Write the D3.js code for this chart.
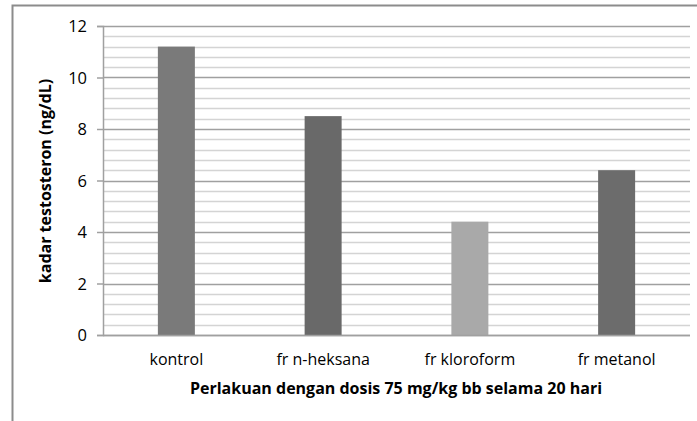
<!DOCTYPE html>
<html>
<head>
<meta charset="utf-8">
<script src="https://cdn.jsdelivr.net/npm/d3@7"></script>
<style>
  body { margin: 0; background: #fff; }
  svg text { font-family: "Open Sans", "Noto Sans", sans-serif; fill: #000; }
</style>
</head>
<body>
<svg id="chart" width="697" height="421"></svg>
<script>
// data
let categories = ["kontrol", "fr n-heksana", "fr kloroform", "fr metanol"];
let values = [11.2, 8.5, 4.4, 6.4];
let barColors = ["#7a7a7a", "#696969", "#a9a9a9", "#6c6c6c"];
let yTicks = [0, 2, 4, 6, 8, 10, 12];
let yTitle = "kadar testosteron (ng/dL)";
let xTitle = "Perlakuan dengan dosis 75 mg/kg bb selama 20 hari";

let svg = d3.select("#chart");

let plotLeft = 103, plotRight = 690, plotTop = 26, plotBottom = 335;

// frame of the chart area (left and top edges show)
svg.append("path")
    .attr("d", "M12.5,421 L12.5,5.5 L697,5.5")
    .attr("fill", "none")
    .attr("stroke", "#8c8c8c")
    .attr("stroke-width", 2);

let x = d3.scaleBand().domain(categories).range([plotLeft, plotRight]);
let y = d3.scaleLinear().domain([0, 12]).range([plotBottom, plotTop]);

// minor gridlines every 0.4
let minor = d3.range(0, 12.01, 0.4).map(d => +d.toFixed(1));
svg.append("g").selectAll("line")
    .data(minor)
    .join("line")
    .attr("x1", plotLeft).attr("x2", plotRight)
    .attr("y1", d => Math.round(y(d)) + 0.5)
    .attr("y2", d => Math.round(y(d)) + 0.5)
    .attr("stroke", d => yTicks.includes(d) ? "#a0a0a0" : "#d4d4d4")
    .attr("stroke-width", 1.5);

// bars
svg.append("g").selectAll("rect")
    .data(values)
    .join("rect")
    .attr("x", (d, i) => x(categories[i]) + x.bandwidth() / 2 - 18.5)
    .attr("width", 37)
    .attr("y", d => y(d))
    .attr("height", d => plotBottom - y(d))
    .attr("fill", (d, i) => barColors[i]);

// y axis
let yAxis = svg.append("g")
    .attr("transform", "translate(" + plotLeft + ",0)")
    .call(d3.axisLeft(y).tickValues(yTicks).tickSize(6).tickPadding(10).tickFormat(d3.format("d")));
yAxis.select(".domain").attr("stroke", "#a0a0a0").attr("stroke-width", 1.5);
yAxis.selectAll(".tick line").attr("stroke", "#a0a0a0").attr("stroke-width", 1.5);
yAxis.selectAll(".tick text")
    .style("font-size", "16.5px")
    .attr("dy", "0.35em");

// x axis baseline
svg.append("line")
    .attr("x1", plotLeft).attr("x2", plotRight)
    .attr("y1", plotBottom + 0.5).attr("y2", plotBottom + 0.5)
    .attr("stroke", "#a0a0a0").attr("stroke-width", 1.5);

// category labels
svg.append("g").selectAll("text")
    .data(categories)
    .join("text")
    .attr("x", d => x(d) + x.bandwidth() / 2)
    .attr("y", 365)
    .attr("text-anchor", "middle")
    .style("font-size", "16px")
    .text(d => d);

// titles
svg.append("text")
    .attr("x", 396)
    .attr("y", 394)
    .attr("text-anchor", "middle")
    .style("font-size", "16px")
    .style("font-weight", "bold")
    .text(xTitle);

svg.append("text")
    .attr("transform", "translate(51,181) rotate(-90)")
    .attr("text-anchor", "middle")
    .style("font-size", "16px")
    .style("font-weight", "bold")
    .text(yTitle);
</script>
</body>
</html>
